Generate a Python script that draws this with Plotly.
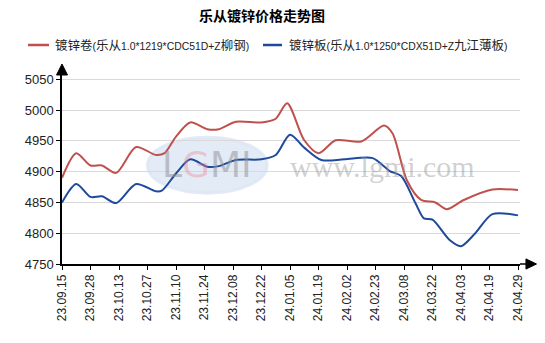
import re
import plotly.graph_objects as go

# ---- data ----
tick_labels = ['23.09.15', '23.09.28', '23.10.13', '23.10.27', '23.11.10', '23.11.24',
               '23.12.08', '23.12.22', '24.01.05', '24.01.19', '24.02.02', '24.02.23',
               '24.03.08', '24.03.22', '24.04.03', '24.04.19', '24.04.29']
tick_idx = [i * 10 for i in range(len(tick_labels))]

coil_name = '镀锌卷(乐从1.0*1219*CDC51D+Z柳钢)'
coil_x = [0, 5, 10, 14, 19, 26, 33, 36, 40, 45, 51, 55, 61, 70, 75, 79, 85, 90,
          96, 105, 113, 116, 121, 126, 131, 135, 141, 151, 160]
coil_y = [4890, 4930, 4910, 4910, 4898, 4940, 4927, 4930, 4957, 4980, 4969, 4969,
          4981, 4980, 4986, 5011, 4951, 4930, 4951, 4949, 4975, 4962, 4886, 4854,
          4850, 4839, 4854, 4871, 4870]

sheet_name = '镀锌板(乐从1.0*1250*CDX51D+Z九江薄板)'
sheet_x = [0, 5, 10, 14, 19, 26, 33, 35, 40, 45, 51, 55, 61, 70, 75, 80, 85, 91,
           99, 109, 115, 119, 124, 127, 130, 136, 140, 145, 151, 160]
sheet_y = [4850, 4880, 4859, 4860, 4849, 4880, 4868, 4869, 4897, 4920, 4908, 4909,
           4919, 4920, 4927, 4960, 4939, 4919, 4920, 4922, 4901, 4893, 4849, 4824,
           4822, 4789, 4779, 4800, 4831, 4829]

y_ticks = [4750, 4800, 4850, 4900, 4950, 5000, 5050]

COIL_COLOR = '#C0504D'
SHEET_COLOR = '#1F4A9C'
FONT = 'Liberation Sans, Arial, Noto Sans CJK SC, sans-serif'


def mixed(text):
    # Latin runs a little smaller than CJK runs
    parts = re.findall(r'[\u4e00-\u9fff]+|[^\u4e00-\u9fff]+', text)
    out = []
    for p in parts:
        if re.match(r'[\u4e00-\u9fff]', p):
            out.append("<span style='font-size:12.5px'>%s</span>" % p)
        else:
            out.append("<span style='font-size:10.4px'>%s</span>" % p)
    return ''.join(out)


fig = go.Figure()
fig.add_trace(go.Scatter(x=coil_x, y=coil_y, name=coil_name, mode='lines',
                         line=dict(color=COIL_COLOR, width=2, shape='spline', smoothing=0.8)))
fig.add_trace(go.Scatter(x=sheet_x, y=sheet_y, name=sheet_name, mode='lines',
                         line=dict(color=SHEET_COLOR, width=2, shape='spline', smoothing=0.8)))

LEG_Y = 1.1587
shapes = [
    # watermark ellipse
    dict(type='circle', xref='x', yref='y', x0=30, x1=72, y0=4865, y1=4956,
         fillcolor='rgba(190,210,235,0.45)', line=dict(color='rgba(220,230,245,0.8)', width=3),
         layer='below'),
    # y axis arrow
    dict(type='path', xref='paper', yref='paper',
         path='M -0.012 1 L 0.012 1 L 0 1.058 Z', fillcolor='black', line=dict(color='black', width=1)),
    # x axis extension + arrow
    dict(type='line', xref='paper', yref='paper', x0=1, x1=1.014, y0=0, y1=0,
         line=dict(color='black', width=1.5)),
    dict(type='path', xref='paper', yref='paper',
         path='M 1.013 -0.027 L 1.013 0.027 L 1.036 0 Z', fillcolor='black', line=dict(color='black', width=1)),
    # legend samples
    dict(type='line', xref='paper', yref='paper', x0=-0.0742, x1=-0.0284, y0=LEG_Y, y1=LEG_Y,
         line=dict(color=COIL_COLOR, width=2.5)),
    dict(type='line', xref='paper', yref='paper', x0=0.4389, x1=0.4803, y0=LEG_Y, y1=LEG_Y,
         line=dict(color=SHEET_COLOR, width=2.5)),
]

annotations = [
    dict(x=51, y=4911, xref='x', yref='y', showarrow=False,
         text="L<span style='color:rgba(240,130,140,0.7)'>G</span>MI",
         font=dict(family='DejaVu Sans, sans-serif', size=36, color='rgba(150,150,150,0.55)')),
    dict(x=112.5, y=4908, xref='x', yref='y', showarrow=False, text='www.lgmi.com',
         font=dict(family='Liberation Serif, DejaVu Serif, serif', size=30, color='rgba(150,150,150,0.45)')),
    dict(x=-0.0197, y=LEG_Y, xref='paper', yref='paper', xanchor='left', yanchor='middle',
         showarrow=False, text=mixed(coil_name), font=dict(family=FONT, size=11, color='#222')),
    dict(x=0.4913, y=LEG_Y, xref='paper', yref='paper', xanchor='left', yanchor='middle',
         showarrow=False, text=mixed(sheet_name), font=dict(family=FONT, size=11, color='#222')),
]

fig.update_layout(
    width=545, height=343,
    margin=dict(l=62, r=25, t=75, b=79),
    paper_bgcolor='white', plot_bgcolor='white',
    title=dict(text='<b>乐从镀锌价格走势图</b>', x=262 / 545, xanchor='center', xref='container',
               y=1 - 16 / 343, yanchor='middle', yref='container',
               font=dict(family='Noto Sans CJK SC, sans-serif', size=14, color='black')),
    font=dict(family=FONT, size=12, color='#222'),
    shapes=shapes, annotations=annotations,
    showlegend=False,
)
fig.update_xaxes(range=[0, 160.7], tickmode='array', tickvals=tick_idx, ticktext=tick_labels,
                 tickangle=-90, ticks='outside', ticklen=4, tickcolor='black',
                 showline=True, linecolor='black', linewidth=1.5, showgrid=False, zeroline=False,
                 tickfont=dict(family=FONT, size=12, color='#222'))
fig.update_yaxes(range=[4750, 5057], tickmode='array', tickvals=y_ticks,
                 ticks='outside', ticklen=4, tickcolor='black',
                 showline=True, linecolor='black', linewidth=1.5, showgrid=True, gridcolor='#d9d9d9',
                 zeroline=False, tickfont=dict(family=FONT, size=13, color='#222'))

fig.write_html('out.html')
